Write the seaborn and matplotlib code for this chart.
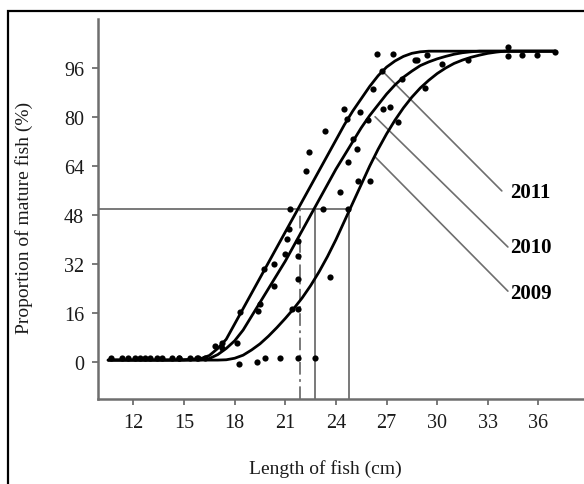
import matplotlib
matplotlib.use("Agg")
import matplotlib.pyplot as plt
from matplotlib.patches import Rectangle
import pandas as pd
import seaborn as sns

# ---- fitted maturity ogives (length in cm, proportion mature in %) ----
ogive_len = [10.5, 11, 12, 13, 14, 15, 16, 16.5, 17, 17.5, 18, 18.5, 19, 19.5,
             20, 20.5, 21, 21.5, 22, 22.5, 23, 23.5, 24, 24.5, 25, 25.5, 26,
             26.5, 27, 27.5, 28, 28.5, 29, 29.5, 30, 30.5, 31, 31.5, 32, 32.5,
             33, 33.5, 34, 35, 36, 37]
ogive_2011 = [0.7, 0.7, 0.7, 0.7, 0.7, 0.8, 1.2, 2.2, 4.5, 7.5, 12.5, 17.5, 22.5,
              27.5, 32.5, 37.5, 42.5, 47.5, 52.5, 57.5, 62.5, 67.5, 72.5, 77.5,
              82, 86, 90, 93.5, 96.3, 98.3, 99.8, 100.8, 101.3, 101.5, 101.5, 101.5,
              101.5, 101.5, 101.5, 101.5, 101.5, 101.5, 101.5, 101.5, 101.5, 101.5]
ogive_2010 = [0.7, 0.7, 0.7, 0.7, 0.7, 0.7, 0.8, 1.2, 2.5, 4.5, 7, 10.5, 15, 19.5,
              24, 28.5, 33, 38, 43, 48, 53, 58, 63, 67.5, 72, 76.5, 80.5, 84,
              87.5, 90.5, 93, 95, 96.8, 98, 99, 99.8, 100.5, 101, 101.3, 101.5,
              101.5, 101.5, 101.5, 101.5, 101.5, 101.5]
ogive_2009 = [0.7, 0.7, 0.7, 0.7, 0.7, 0.7, 0.7, 0.7, 0.7, 0.8, 1.3, 2.3, 4, 6,
              8.5, 11.3, 14.3, 17.5, 21, 25, 29.5, 34.5, 40, 46, 52, 58, 64,
              69.5, 74.5, 79, 83, 86.5, 89.5, 92, 94.2, 96, 97.5, 98.6, 99.5,
              100.2, 100.8, 101.2, 101.5, 101.5, 101.5, 101.5]

# length at 50 % maturity for each year
years = ["2011", "2010", "2009"]
l50 = [21.85, 22.75, 24.8]

# ---- observed proportions ----
obs_len_2011 = [10.7, 11.7, 12.4, 13.0, 13.7, 14.7, 15.8, 16.85, 17.25, 18.33,
                19.71, 20.3, 21.0, 21.19, 21.29, 22.22, 22.41, 23.36, 24.45,
                26.22, 26.42, 26.72, 27.4, 28.79, 29.38, 35.0, 35.9, 36.97]
obs_pct_2011 = [1.5, 1.5, 1.5, 1.5, 1.5, 1.5, 1.5, 5.3, 6.4, 16.5,
                30.5, 32, 35.3, 43.5, 50, 62.3, 68.5, 75.5, 82.7,
                89, 100.5, 95, 100.5, 98.5, 100.1, 100.1, 100.3, 101.2]
obs_len_2010 = [11.33, 12.12, 12.71, 13.4, 14.29, 15.37, 16.26, 17.25, 18.14,
                19.41, 19.51, 20.3, 21.09, 21.78, 21.78, 23.26, 24.25, 24.65,
                24.74, 25.04, 25.24, 25.43, 25.92, 26.81, 27.2, 27.9, 28.69,
                30.27, 31.84, 34.2]
obs_pct_2010 = [1.5, 1.5, 1.5, 1.5, 1.5, 1.5, 1.5, 4.8, 6.4,
                16.8, 19, 25, 40.2, 39.6, 34.7, 50, 55.4, 79.4,
                65.4, 72.9, 69.6, 81.6, 78.9, 82.7, 83.2, 92.5, 98.5,
                97.4, 98.5, 100]
obs_len_2009 = [14.69, 15.77, 18.23, 19.32, 19.81, 20.7, 21.39, 21.78, 21.78,
                21.78, 22.77, 23.66, 24.72, 25.33, 26.02, 27.7, 29.28, 34.2]
obs_pct_2009 = [1.5, 1.5, -0.7, 0.1, 1.5, 1.5, 17.3, 17.3, 27.1,
                1.5, 1.5, 27.7, 50, 59.3, 59.3, 78.3, 89.5, 102.8]

x_ticks = [12, 15, 18, 21, 24, 27, 30, 33, 36]
y_ticks = [0, 16, 32, 48, 64, 80, 96]

curves = pd.DataFrame({
    "length": ogive_len * 3,
    "pct": ogive_2011 + ogive_2010 + ogive_2009,
    "year": ["2011"] * len(ogive_len) + ["2010"] * len(ogive_len) + ["2009"] * len(ogive_len),
})
points = pd.DataFrame({
    "length": obs_len_2011 + obs_len_2010 + obs_len_2009,
    "pct": obs_pct_2011 + obs_pct_2010 + obs_pct_2009,
    "year": ["2011"] * len(obs_len_2011) + ["2010"] * len(obs_len_2010) + ["2009"] * len(obs_len_2009),
})

sns.set_theme(style="ticks")
plt.rcParams["font.family"] = ["Liberation Serif", "DejaVu Serif"]

fig = plt.figure(figsize=(5.84, 4.85), dpi=100)
ax = fig.add_axes([98 / 584, 85 / 485, 1 - 98 / 584, 380 / 485])

grey = "#6e6e6e"
xmin, xmax = 9.9, 38.7
ymin, ymax = -12, 112

# reference lines at 50 % maturity
ax.plot([xmin, l50[2]], [50, 50], color=grey, lw=1.3, zorder=1)
ax.plot([l50[0], l50[0]], [ymin, 50], color=grey, lw=1.3,
        linestyle=(0, (7, 2.5, 1.5, 2.5)), zorder=1)
ax.plot([l50[1], l50[1]], [ymin, 50], color=grey, lw=1.3, zorder=1)
ax.plot([l50[2], l50[2]], [ymin, 50], color=grey, lw=1.3, zorder=1)

sns.lineplot(data=curves, x="length", y="pct", hue="year",
             palette=["black"] * 3, linewidth=2.0, legend=False, ax=ax,
             sort=False, zorder=3)
sns.scatterplot(data=points, x="length", y="pct", color="black", s=20,
                edgecolor="black", linewidth=0, legend=False, ax=ax, zorder=4)

# year labels with leader lines
label_spec = {
    "2011": ((26.79, 94.8), (33.83, 55.9), 55.6),
    "2010": ((26.32, 80.1), (34.19, 37.6), 37.6),
    "2009": ((26.32, 67.0), (34.19, 23.2), 22.5),
}
for yr in years:
    (x0, y0), (x1, y1), ty = label_spec[yr]
    ax.plot([x0, x1], [y0, y1], color=grey, lw=1.2, zorder=2)
    ax.text(34.35, ty, yr, fontsize=15, fontweight="bold", ha="left",
            va="center", color="black")

ax.set_xlim(xmin, xmax)
ax.set_ylim(ymin, ymax)
ax.set_xticks(x_ticks)
ax.set_yticks(y_ticks)
ax.tick_params(axis="both", direction="out", length=4, width=1.3, color=grey,
               labelsize=14.5, labelcolor="#1a1a1a", pad=6)
for side in ("top", "right"):
    ax.spines[side].set_visible(False)
for side in ("left", "bottom"):
    ax.spines[side].set_color(grey)
    ax.spines[side].set_linewidth(1.8)

ax.set_xlabel("Length of fish (cm)", fontsize=14, color="#1a1a1a")
ax.set_ylabel("Proportion of mature fish (%)", fontsize=14, color="#1a1a1a")
ax.xaxis.set_label_coords((325 - 98) / 486, -(460 - 400) / 380)
ax.yaxis.set_label_coords((33 - 98) / 486, (400 - 218) / 380)

# outer frame of the figure panel
fig.patches.append(Rectangle((8 / 584, -0.1), 1.2, 0.1 + 1 - 12 / 485,
                             transform=fig.transFigure, fill=False,
                             edgecolor="black", linewidth=1.6, zorder=0))

fig.savefig("out.png", dpi=100)
